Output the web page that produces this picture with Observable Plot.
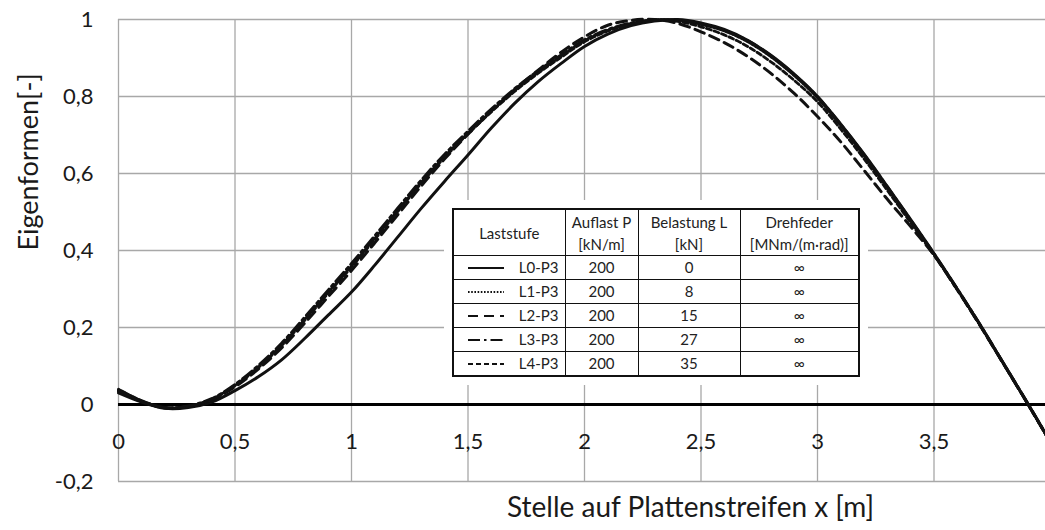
<!DOCTYPE html>
<html>
<head>
<meta charset="utf-8">
<script src="https://cdn.jsdelivr.net/npm/d3@7"></script>
<script src="https://cdn.jsdelivr.net/npm/@observablehq/plot@0.6"></script>
<style>
  body { margin: 0; background: #fff; }
  #chart { position: relative; width: 1045px; height: 530px; font-family: Lato, "Open Sans", sans-serif; }
  #legend { position: absolute; left: 444px; top: 200px; padding: 8px; background: #fff; }
  #legend table { border-collapse: collapse; border: 2px solid #111; table-layout: fixed; width: 406px;
                  font-size: 15px; color: #222; font-family: Lato, sans-serif; }
  #legend th, #legend td { border: 1px solid #111; text-align: center; padding: 0; font-weight: normal; }
  #legend th { height: 45px; line-height: 22px; }
  #legend td { height: 23px; line-height: 23px; }
  #legend .stufe { display: flex; align-items: center; justify-content: space-between; padding: 0 6px 0 14px; }
</style>
</head>
<body>
<div id="chart"></div>
<script>
// Position along the slab strip x [m]
const stelle = [0, 0.1, 0.2, 0.3, 0.4, 0.5, 0.6, 0.7, 0.8, 0.9,
                1.0, 1.1, 1.2, 1.3, 1.4, 1.5, 1.6, 1.7, 1.8, 1.9,
                2.0, 2.1, 2.2, 2.3, 2.4, 2.5, 2.6, 2.7, 2.8, 2.9,
                3.0, 3.1, 3.2, 3.3, 3.4, 3.5, 3.6, 3.7, 3.8, 3.9, 4.0];

// Normalised mode shapes per load step
const L0 = [0.030, 0.006, -0.010, -0.008, 0.006, 0.036, 0.072, 0.116, 0.172, 0.232,
            0.292, 0.362, 0.436, 0.510, 0.580, 0.648, 0.718, 0.782, 0.838, 0.886,
            0.930, 0.962, 0.984, 0.996, 1.000, 0.991, 0.974, 0.946, 0.907, 0.858,
            0.800, 0.728, 0.650, 0.566, 0.480, 0.392, 0.300, 0.205, 0.105, 0.005, -0.098];
const L1 = [0.040, 0.010, -0.008, -0.004, 0.014, 0.050, 0.098, 0.155, 0.222, 0.292,
            0.360, 0.432, 0.505, 0.578, 0.645, 0.705, 0.762, 0.815, 0.862, 0.905,
            0.945, 0.972, 0.990, 0.999, 0.998, 0.987, 0.970, 0.942, 0.903, 0.854,
            0.796, 0.724, 0.646, 0.562, 0.477, 0.390, 0.299, 0.204, 0.104, 0.004, -0.099];
const L2 = [0.035, 0.008, -0.009, -0.005, 0.012, 0.046, 0.092, 0.147, 0.212, 0.280,
            0.348, 0.420, 0.494, 0.568, 0.638, 0.702, 0.762, 0.818, 0.868, 0.915,
            0.955, 0.985, 0.998, 1.000, 0.990, 0.968, 0.940, 0.904, 0.860, 0.808,
            0.748, 0.682, 0.608, 0.533, 0.462, 0.388, 0.298, 0.203, 0.104, 0.004, -0.099];
const L3 = [0.038, 0.009, -0.008, -0.004, 0.015, 0.052, 0.101, 0.159, 0.227, 0.297,
            0.366, 0.438, 0.511, 0.583, 0.650, 0.710, 0.767, 0.820, 0.866, 0.908,
            0.947, 0.974, 0.991, 0.999, 0.998, 0.989, 0.972, 0.945, 0.906, 0.857,
            0.799, 0.727, 0.649, 0.565, 0.479, 0.391, 0.300, 0.205, 0.105, 0.005, -0.098];
const L4 = [0.036, 0.008, -0.009, -0.005, 0.013, 0.049, 0.096, 0.153, 0.219, 0.289,
            0.357, 0.429, 0.502, 0.575, 0.642, 0.703, 0.760, 0.813, 0.860, 0.902,
            0.942, 0.970, 0.988, 0.998, 0.995, 0.981, 0.960, 0.930, 0.890, 0.842,
            0.786, 0.715, 0.638, 0.556, 0.472, 0.388, 0.298, 0.203, 0.104, 0.004, -0.099];

// Legend table contents
const laststufen = ["L0-P3", "L1-P3", "L2-P3", "L3-P3", "L4-P3"];
const auflast = [200, 200, 200, 200, 200];
const belastung = [0, 8, 15, 27, 35];
const drehfeder = ["∞", "∞", "∞", "∞", "∞"];

// Axis ticks
const xTicks = [0, 0.5, 1, 1.5, 2, 2.5, 3, 3.5];
const xGrid = [0, 0.5, 1, 1.5, 2, 2.5, 3, 3.5, 4];
const yTicks = [-0.2, 0, 0.2, 0.4, 0.6, 0.8, 1];

const werte = [L0, L1, L2, L3, L4];

// Line style per load step
const linienstil = {
  "L0-P3": {dash: null, width: 3},
  "L1-P3": {dash: "1.6,1.6", width: 2.6},
  "L2-P3": {dash: "10,6", width: 3},
  "L3-P3": {dash: "12,4,2.5,4", width: 3},
  "L4-P3": {dash: "5,3", width: 2.8}
};

const rows = laststufen.flatMap((name, k) =>
  stelle.map((x, i) => ({x, y: werte[k][i], name})));

const komma = d => String(d).replace(".", ",");

const chart = Plot.plot({
  width: 1045,
  height: 530,
  marginLeft: 118,
  marginRight: -5,
  marginTop: 19,
  marginBottom: 49,
  x: {domain: [0, 4]},
  y: {domain: [-0.2, 1]},
  style: {fontFamily: "Lato, sans-serif", fontSize: "22px", color: "#1a1a1a", background: "#fff", overflow: "hidden"},
  marks: [
    Plot.gridX(xGrid, {stroke: "#a8a8a8", strokeOpacity: 1, strokeWidth: 1.3}),
    Plot.gridY(yTicks, {stroke: "#a8a8a8", strokeOpacity: 1, strokeWidth: 1.3}),
    Plot.ruleY([0], {stroke: "#000", strokeWidth: 3}),
    ...laststufen.map(name => Plot.line(rows.filter(r => r.name === name), {
      x: "x", y: "y",
      stroke: "#111",
      strokeWidth: linienstil[name].width,
      strokeDasharray: linienstil[name].dash,
      curve: "catmull-rom"
    })),
    Plot.axisY(yTicks, {tickSize: 0, tickPadding: 25, tickFormat: komma, fontSize: 22, label: null}),
    Plot.axisX(xTicks, {anchor: "bottom", tickSize: 0, tickPadding: 0, dy: -48, tickFormat: komma, fontSize: 22, label: null}),
    Plot.text(["Eigenformen[-]"], {frameAnchor: "left", dx: -89, rotate: -90, fontSize: 27, fill: "#1a1a1a"}),
    Plot.text(["Stelle auf Plattenstreifen x [m]"], {frameAnchor: "bottom", dx: 106, dy: 35, fontSize: 28, fill: "#1a1a1a"})
  ]
});

const host = document.getElementById("chart");
host.appendChild(chart);

// Legend table placed inside the plot area
function probe(name) {
  const st = linienstil[name];
  const dash = st.dash ? ` stroke-dasharray="${st.dash}"` : "";
  return `<svg width="36" height="6"><line x1="0" y1="3" x2="36" y2="3" stroke="#111" stroke-width="${Math.min(st.width, 2.2)}"${dash}/></svg>`;
}

const legend = document.createElement("div");
legend.id = "legend";
legend.innerHTML = `
<table>
  <colgroup><col style="width:112px"><col style="width:73px"><col style="width:102px"><col style="width:119px"></colgroup>
  <tr><th>Laststufe</th><th>Auflast P<br>[kN/m]</th><th>Belastung L<br>[kN]</th><th>Drehfeder<br>[MNm/(m·rad)]</th></tr>
  ${laststufen.map((name, i) => `
  <tr><td><div class="stufe">${probe(name)}<span>${name}</span></div></td>
      <td>${auflast[i]}</td><td>${belastung[i]}</td><td>${drehfeder[i]}</td></tr>`).join("")}
</table>`;
host.appendChild(legend);
</script>
</body>
</html>
